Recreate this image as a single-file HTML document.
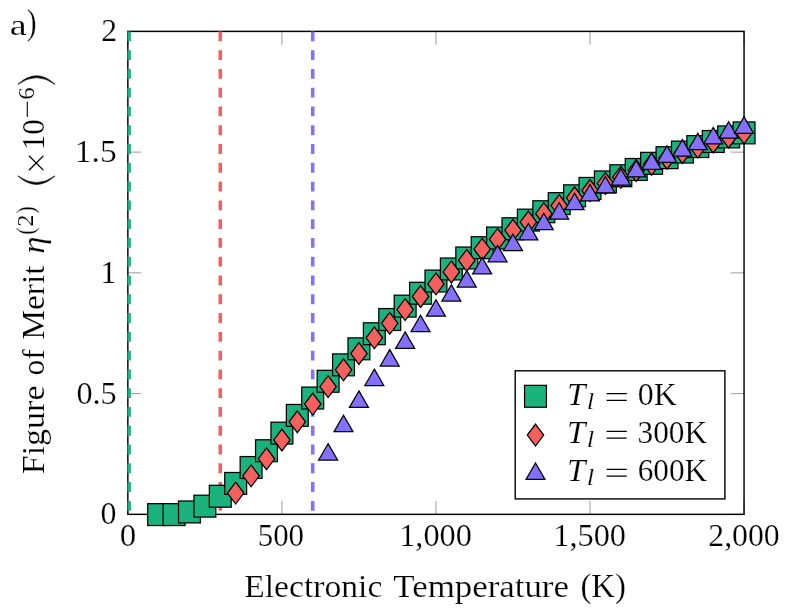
<!DOCTYPE html>
<html><head><meta charset="utf-8"><title>Figure of Merit</title>
<style>html,body{margin:0;padding:0;background:#fff;}svg{display:block;}text{font-family:"Liberation Serif",serif;fill:#000;stroke:#fff;stroke-width:0.2px;}.t{opacity:.999}</style></head><body>
<svg width="790" height="615" viewBox="0 0 790 615">
<rect x="0" y="0" width="790" height="615" fill="#fff"/>
<g stroke="#808080" stroke-width="0.8" fill="none">
<path d="M127.85 514.35V501.05M127.85 31.40V44.70"/>
<path d="M281.90 514.35V501.05M281.90 31.40V44.70"/>
<path d="M435.95 514.35V501.05M435.95 31.40V44.70"/>
<path d="M590.00 514.35V501.05M590.00 31.40V44.70"/>
<path d="M744.05 514.35V501.05M744.05 31.40V44.70"/>
<path d="M127.85 514.35H141.15M744.05 514.35H730.75"/>
<path d="M127.85 393.61H141.15M744.05 393.61H730.75"/>
<path d="M127.85 272.88H141.15M744.05 272.88H730.75"/>
<path d="M127.85 152.14H141.15M744.05 152.14H730.75"/>
<path d="M127.85 31.40H141.15M744.05 31.40H730.75"/>
</g>
<rect x="127.85" y="31.40" width="616.20" height="482.95" fill="none" stroke="#000" stroke-width="1.45"/>
<clipPath id="c"><rect x="127.15" y="30.80" width="617.60" height="484.15"/></clipPath>
<g clip-path="url(#c)" stroke-width="3.55" stroke-dasharray="9.85 8.93" fill="none">
<path d="M129.10 31.40V514.35" stroke="#1bb37d"/>
<path d="M220.28 31.40V514.35" stroke="#f4605e"/>
<path d="M312.71 31.40V514.35" stroke="#8570fb"/>
</g>
<g stroke="#000" stroke-width="1.25" stroke-linejoin="miter" stroke-miterlimit="10">
<g fill="#1bb37d"><rect x="147.72" y="503.65" width="21.88" height="21.88"/><rect x="163.12" y="503.65" width="21.88" height="21.88"/><rect x="178.53" y="501.00" width="21.88" height="21.88"/><rect x="193.94" y="495.20" width="21.88" height="21.88"/><rect x="209.34" y="485.30" width="21.88" height="21.88"/><rect x="224.74" y="472.50" width="21.88" height="21.88"/><rect x="240.15" y="456.56" width="21.88" height="21.88"/><rect x="255.56" y="439.78" width="21.88" height="21.88"/><rect x="270.96" y="422.18" width="21.88" height="21.88"/><rect x="286.36" y="404.47" width="21.88" height="21.88"/><rect x="301.77" y="387.11" width="21.88" height="21.88"/><rect x="317.17" y="370.34" width="21.88" height="21.88"/><rect x="332.58" y="353.90" width="21.88" height="21.88"/><rect x="347.98" y="337.87" width="21.88" height="21.88"/><rect x="363.39" y="322.80" width="21.88" height="21.88"/><rect x="378.80" y="308.56" width="21.88" height="21.88"/><rect x="394.20" y="295.19" width="21.88" height="21.88"/><rect x="409.60" y="282.29" width="21.88" height="21.88"/><rect x="425.01" y="270.09" width="21.88" height="21.88"/><rect x="440.41" y="258.03" width="21.88" height="21.88"/><rect x="455.82" y="247.05" width="21.88" height="21.88"/><rect x="471.22" y="236.74" width="21.88" height="21.88"/><rect x="486.63" y="227.07" width="21.88" height="21.88"/><rect x="502.03" y="217.79" width="21.88" height="21.88"/><rect x="517.44" y="209.18" width="21.88" height="21.88"/><rect x="532.84" y="200.79" width="21.88" height="21.88"/><rect x="548.25" y="192.66" width="21.88" height="21.88"/><rect x="563.65" y="184.86" width="21.88" height="21.88"/><rect x="579.06" y="177.48" width="21.88" height="21.88"/><rect x="594.46" y="170.97" width="21.88" height="21.88"/><rect x="609.87" y="164.80" width="21.88" height="21.88"/><rect x="625.27" y="158.53" width="21.88" height="21.88"/><rect x="640.68" y="152.37" width="21.88" height="21.88"/><rect x="656.08" y="146.75" width="21.88" height="21.88"/><rect x="671.49" y="141.13" width="21.88" height="21.88"/><rect x="686.89" y="135.64" width="21.88" height="21.88"/><rect x="702.30" y="130.56" width="21.88" height="21.88"/><rect x="717.70" y="125.98" width="21.88" height="21.88"/><rect x="733.11" y="121.93" width="21.88" height="21.88"/></g>
<g fill="#f4605e"><path d="M235.68 482.16L243.89 493.10L235.68 504.04L227.48 493.10Z"/><path d="M251.09 464.92L259.29 475.86L251.09 486.80L242.88 475.86Z"/><path d="M266.50 447.87L274.70 458.81L266.50 469.75L258.29 458.81Z"/><path d="M281.90 429.04L290.10 439.98L281.90 450.92L273.69 439.98Z"/><path d="M297.30 410.84L305.51 421.78L297.30 432.72L289.10 421.78Z"/><path d="M312.71 393.18L320.91 404.12L312.71 415.06L304.50 404.12Z"/><path d="M328.11 375.70L336.32 386.64L328.11 397.58L319.91 386.64Z"/><path d="M343.52 358.91L351.72 369.85L343.52 380.79L335.31 369.85Z"/><path d="M358.92 342.57L367.13 353.51L358.92 364.45L350.72 353.51Z"/><path d="M374.33 326.93L382.53 337.87L374.33 348.81L366.12 337.87Z"/><path d="M389.74 312.37L397.94 323.31L389.74 334.25L381.53 323.31Z"/><path d="M405.14 298.68L413.34 309.62L405.14 320.56L396.94 309.62Z"/><path d="M420.54 285.51L428.75 296.45L420.54 307.39L412.34 296.45Z"/><path d="M435.95 272.94L444.15 283.88L435.95 294.82L427.74 283.88Z"/><path d="M451.35 260.97L459.56 271.91L451.35 282.85L443.15 271.91Z"/><path d="M466.76 249.45L474.96 260.39L466.76 271.33L458.56 260.39Z"/><path d="M482.16 238.30L490.37 249.24L482.16 260.18L473.96 249.24Z"/><path d="M497.57 228.43L505.77 239.37L497.57 250.31L489.36 239.37Z"/><path d="M512.97 219.32L521.18 230.26L512.97 241.20L504.77 230.26Z"/><path d="M528.38 211.14L536.58 222.08L528.38 233.02L520.17 222.08Z"/><path d="M543.78 202.71L551.99 213.65L543.78 224.59L535.58 213.65Z"/><path d="M559.19 194.62L567.39 205.56L559.19 216.50L550.98 205.56Z"/><path d="M574.59 186.85L582.80 197.79L574.59 208.73L566.39 197.79Z"/><path d="M590.00 179.56L598.20 190.50L590.00 201.44L581.79 190.50Z"/><path d="M605.40 172.54L613.61 183.48L605.40 194.42L597.20 183.48Z"/><path d="M620.81 166.24L629.01 177.18L620.81 188.12L612.60 177.18Z"/><path d="M636.21 159.60L644.42 170.54L636.21 181.48L628.01 170.54Z"/><path d="M651.62 153.32L659.83 164.26L651.62 175.20L643.41 164.26Z"/><path d="M667.02 147.26L675.23 158.20L667.02 169.14L658.82 158.20Z"/><path d="M682.43 141.47L690.63 152.41L682.43 163.35L674.22 152.41Z"/><path d="M697.83 136.14L706.04 147.08L697.83 158.02L689.63 147.08Z"/><path d="M713.24 131.00L721.44 141.94L713.24 152.88L705.03 141.94Z"/><path d="M728.64 126.06L736.85 137.00L728.64 147.94L720.44 137.00Z"/><path d="M744.05 121.93L752.25 132.87L744.05 143.81L735.84 132.87Z"/></g>
<g fill="#8570fb"><path d="M328.11 443.64L337.59 460.05L318.64 460.05Z"/><path d="M343.52 415.27L352.99 431.68L334.05 431.68Z"/><path d="M358.92 390.91L368.40 407.32L349.45 407.32Z"/><path d="M374.33 369.15L383.80 385.56L364.86 385.56Z"/><path d="M389.74 349.62L399.21 366.03L380.26 366.03Z"/><path d="M405.14 331.91L414.61 348.32L395.67 348.32Z"/><path d="M420.54 315.22L430.02 331.63L411.07 331.63Z"/><path d="M435.95 299.76L445.42 316.17L426.48 316.17Z"/><path d="M451.35 284.70L460.83 301.11L441.88 301.11Z"/><path d="M466.76 270.66L476.23 287.07L457.29 287.07Z"/><path d="M482.16 257.41L491.64 273.82L472.69 273.82Z"/><path d="M497.57 245.40L507.04 261.81L488.10 261.81Z"/><path d="M512.97 234.11L522.45 250.52L503.50 250.52Z"/><path d="M528.38 223.45L537.85 239.86L518.91 239.86Z"/><path d="M543.78 213.25L553.26 229.66L534.31 229.66Z"/><path d="M559.19 202.72L568.66 219.13L549.72 219.13Z"/><path d="M574.59 193.28L584.07 209.69L565.12 209.69Z"/><path d="M590.00 184.47L599.47 200.88L580.53 200.88Z"/><path d="M605.40 176.46L614.88 192.87L595.93 192.87Z"/><path d="M620.81 168.61L630.28 185.02L611.34 185.02Z"/><path d="M636.21 160.47L645.69 176.88L626.74 176.88Z"/><path d="M651.62 152.87L661.09 169.28L642.15 169.28Z"/><path d="M667.02 145.85L676.50 162.26L657.55 162.26Z"/><path d="M682.43 139.62L691.90 156.03L672.96 156.03Z"/><path d="M697.83 133.32L707.31 149.73L688.36 149.73Z"/><path d="M713.24 127.40L722.71 143.81L703.77 143.81Z"/><path d="M728.64 121.71L738.12 138.12L719.17 138.12Z"/><path d="M744.05 116.86L753.52 133.27L734.58 133.27Z"/></g>
</g>
<rect x="515.2" y="370.8" width="209.7" height="128.1" fill="#fff" stroke="#000" stroke-width="1.4"/>
<g stroke="#000" stroke-width="1.25" stroke-miterlimit="10">
<g fill="#1bb37d"><rect x="524.56" y="385.36" width="21.88" height="21.88"/></g><g fill="#f4605e"><path d="M535.50 424.16L543.71 435.10L535.50 446.04L527.29 435.10Z"/></g><g fill="#8570fb"><path d="M535.50 463.06L544.97 479.47L526.03 479.47Z"/></g>
</g>
<g class="t">
<text transform="translate(566.95 404.80) scale(1.0505 1.0000)" font-size="31.5" font-style="italic">T</text>
<text transform="translate(586.80 409.40) scale(1.2094 1.0000)" font-size="22.049999999999997" font-style="italic">l</text>
<path d="M606.6 393.60H626.8M606.6 400.30H626.8" stroke="#000" stroke-width="1.3" fill="none"/>
<text transform="translate(637.80 404.80) scale(1.0132 1.0000)" font-size="31.5">0K</text>
<text transform="translate(566.95 442.60) scale(1.0505 1.0000)" font-size="31.5" font-style="italic">T</text>
<text transform="translate(586.80 447.20) scale(1.2094 1.0000)" font-size="22.049999999999997" font-style="italic">l</text>
<path d="M606.6 431.40H626.8M606.6 438.10H626.8" stroke="#000" stroke-width="1.3" fill="none"/>
<text transform="translate(637.51 442.60) scale(0.9942 1.0000)" font-size="31.5">300K</text>
<text transform="translate(566.95 480.60) scale(1.0505 1.0000)" font-size="31.5" font-style="italic">T</text>
<text transform="translate(586.80 485.20) scale(1.2094 1.0000)" font-size="22.049999999999997" font-style="italic">l</text>
<path d="M606.6 469.40H626.8M606.6 476.10H626.8" stroke="#000" stroke-width="1.3" fill="none"/>
<text transform="translate(637.67 480.60) scale(0.9919 1.0000)" font-size="31.5">600K</text>
<text transform="translate(119.76 545.50) scale(1.0458 1.0000)" font-size="31.5">0</text>
<text transform="translate(257.72 545.50) scale(0.9806 1.0000)" font-size="31.5">500</text>
<text transform="translate(399.17 545.50) scale(1.0263 1.0000)" font-size="31.5">1,000</text>
<text transform="translate(553.27 545.50) scale(1.0263 1.0000)" font-size="31.5">1,500</text>
<text transform="translate(708.25 545.50) scale(1.0094 1.0000)" font-size="31.5">2,000</text>
<text transform="translate(100.60 524.35) scale(1.0159 0.9700)" font-size="31.5">0</text>
<text transform="translate(76.39 403.61) scale(1.0235 0.9700)" font-size="31.5">0.5</text>
<text transform="translate(100.25 282.88) scale(1.0357 0.9700)" font-size="31.5">1</text>
<text transform="translate(74.87 162.14) scale(1.0634 0.9700)" font-size="31.5">1.5</text>
<text transform="translate(101.25 41.40) scale(1.0096 0.9700)" font-size="31.5">2</text>
<text transform="translate(244.18 596.70) scale(1.0676 1.0000)" font-size="31.5">Electronic</text>
<text transform="translate(393.29 596.70) scale(1.1075 1.0000)" font-size="31.5">Temperature</text>
<text transform="translate(580.40 596.70) scale(1.0432 1.0700)" font-size="31.5">(K)</text>
<text transform="translate(9.86 34.60) scale(1.2136 0.9500)" font-size="31.5">a</text>
<text transform="translate(26.84 34.40) scale(0.9370 1.1200)" font-size="31.5">)</text>
<g transform="rotate(-90)">
<text transform="translate(-474.24 44.00) scale(1.0794 1.0000)" font-size="31.5">Figure</text>
<text transform="translate(-375.43 44.00) scale(1.0003 1.0000)" font-size="31.5">of</text>
<text transform="translate(-339.82 44.00) scale(1.0640 1.0000)" font-size="31.5">Merit</text>
<text transform="translate(-253.72 44.00) scale(1.1036 1.0000)" font-size="31.5" font-style="italic">η</text>
<text transform="translate(-234.86 33.50) scale(0.9010 1.0000)" font-size="25">(</text>
<text transform="translate(-226.83 33.10) scale(1.0586 1.0000)" font-size="23">2</text>
<text transform="translate(-213.63 33.50) scale(0.9010 1.0000)" font-size="25">)</text>
<path d="M-175.9 17.9Q-192.9 36.45 -175.9 55Q-189.3 36.45 -175.9 17.9Z" fill="#000" stroke="#000" stroke-width="0.7" stroke-linejoin="round"/>
<path d="M-84.3 17.9Q-67.3 36.45 -84.3 55Q-70.9 36.45 -84.3 17.9Z" fill="#000" stroke="#000" stroke-width="0.7" stroke-linejoin="round"/>
<path d="M-170.2 29H-170.2L-155.8 43.4M-170.2 43.4L-155.8 29" stroke="#000" stroke-width="1.3" fill="none"/>
<text transform="translate(-150.32 44.00) scale(0.9868 1.0000)" font-size="31.5">10</text>
<path d="M-116.9 27.3H-101.7" stroke="#000" stroke-width="1.1" fill="none"/>
<text transform="translate(-99.66 33.60) scale(1.0651 1.0000)" font-size="23.5">6</text>
</g>
</g>
</svg></body></html>
